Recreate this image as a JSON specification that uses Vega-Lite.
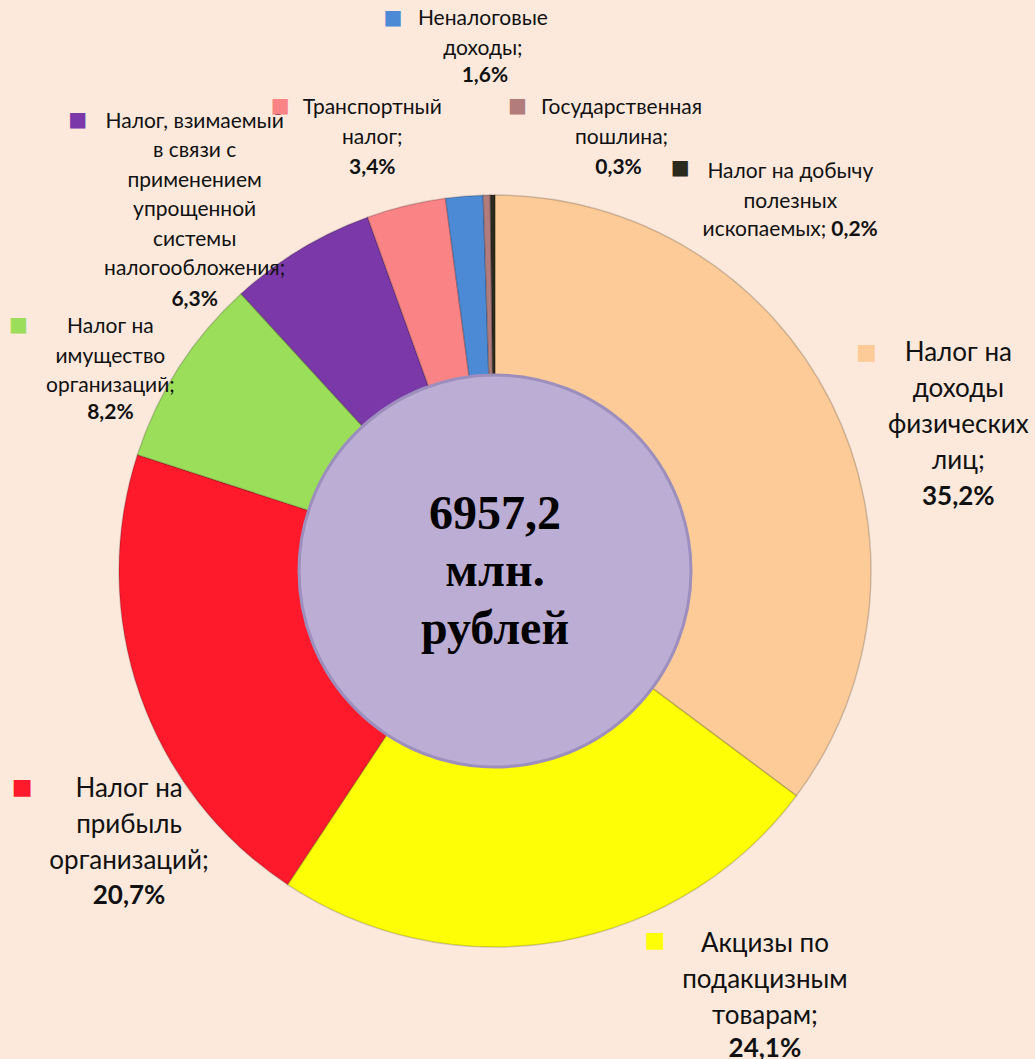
{
  "$schema": "https://vega.github.io/schema/vega-lite/v6.json",
  "width": 990,
  "height": 976,
  "padding": {"left": 0, "top": 83, "right": 45, "bottom": 0},
  "autosize": {"type": "none"},
  "background": "#FCE9DC",
  "config": {
    "view": {"stroke": null},
    "locale": {"number": {"decimal": ",", "thousands": " ", "grouping": [3], "currency": ["", " руб."]}}
  },
  "datasets": {
    "parts": [
      {"k": "ndfl", "cat": "Налог на доходы физических лиц", "share": 0.352, "label": "Налог на\nдоходы\nфизических\nлиц;"},
      {"k": "akciz", "cat": "Акцизы по подакцизным товарам", "share": 0.241, "label": "Акцизы по\nподакцизным\nтоварам;"},
      {"k": "prib", "cat": "Налог на прибыль организаций", "share": 0.207, "label": "Налог на\nприбыль\nорганизаций;"},
      {"k": "imush", "cat": "Налог на имущество организаций", "share": 0.082, "label": "Налог на\nимущество\nорганизаций;"},
      {"k": "usn", "cat": "Налог, взимаемый в связи с применением упрощенной системы налогообложения", "share": 0.063, "label": "Налог, взимаемый\nв связи с\nприменением\nупрощенной\nсистемы\nналогообложения;"},
      {"k": "transp", "cat": "Транспортный налог", "share": 0.034, "label": "Транспортный\nналог;"},
      {"k": "nenal", "cat": "Неналоговые доходы", "share": 0.016, "label": "Неналоговые\nдоходы;"},
      {"k": "gosp", "cat": "Государственная пошлина", "share": 0.003, "label": "Государственная\nпошлина;"},
      {"k": "dob", "cat": "Налог на добычу полезных ископаемых", "share": 0.002, "label": "Налог на добычу\nполезных", "tail": "ископаемых;"}
    ],
    "total": [{"total": 6957.2, "unit": "млн.\nрублей"}]
  },
  "data": {"name": "parts"},
  "layer": [
    {
      "mark": {"type": "arc", "radius": 376, "radius2": 185, "stroke": "#000000", "strokeOpacity": 0.18, "strokeWidth": 1.5},
      "encoding": {
        "theta": {"field": "share", "type": "quantitative", "stack": true},
        "order": {"field": "share", "type": "quantitative", "sort": "descending"},
        "color": {
          "field": "cat", "type": "nominal", "legend": null,
          "scale": {
            "domain": ["Налог на доходы физических лиц", "Акцизы по подакцизным товарам", "Налог на прибыль организаций", "Налог на имущество организаций", "Налог, взимаемый в связи с применением упрощенной системы налогообложения", "Транспортный налог", "Неналоговые доходы", "Государственная пошлина", "Налог на добычу полезных ископаемых"],
            "range": ["#FCCB98", "#FEFE06", "#FF1A2B", "#9BDE5A", "#7B38A9", "#FA8385", "#4C8AD6", "#B27C7C", "#2B2A1C"]
          }
        }
      }
    },
    {
      "data": {"name": "total"},
      "mark": {"type": "arc", "radius": 196, "theta": 0, "theta2": 6.2832, "color": "#BCADD4", "stroke": "#9D8FBD", "strokeWidth": 3},
      "encoding": {}
    },
    {
      "data": {"name": "total"},
      "mark": {"type": "text", "font": "Liberation Serif", "fontWeight": "bold", "fontSize": 48, "align": "center", "baseline": "middle", "dy": -56, "color": "#000000"},
      "encoding": {"text": {"field": "total", "type": "quantitative", "format": ".1f"}}
    },
    {
      "data": {"name": "total"},
      "mark": {"type": "text", "font": "Liberation Serif", "fontWeight": "bold", "fontSize": 48, "lineHeight": 58, "lineBreak": "\n", "align": "center", "baseline": "top", "dy": -23, "color": "#000000"},
      "encoding": {"text": {"field": "unit", "type": "nominal"}}
    },

    {"mark": {"type": "text", "radius": 430, "baseline": "top", "align": "center", "font": "Lato", "fontSize": 26, "lineHeight": 36, "lineBreak": "\n", "color": "#111111", "dx": 79, "dy": -38},
     "encoding": {"theta": {"field": "share", "type": "quantitative", "stack": true}, "order": {"field": "share", "type": "quantitative", "sort": "descending"},
       "text": {"condition": {"test": "datum.k === 'ndfl'", "field": "label", "type": "nominal"}, "value": ""}}},
    {"mark": {"type": "text", "radius": 430, "baseline": "top", "align": "center", "font": "Lato", "fontWeight": "bold", "fontSize": 26, "color": "#111111", "dx": 79, "dy": 106},
     "encoding": {"theta": {"field": "share", "type": "quantitative", "stack": true}, "order": {"field": "share", "type": "quantitative", "sort": "descending"},
       "text": {"condition": {"test": "datum.k === 'ndfl'", "field": "share", "type": "quantitative", "format": ".1%"}, "value": ""}}},
    {"mark": {"type": "text", "radius": 430, "baseline": "middle", "align": "center", "font": "DejaVu Sans", "fontSize": 22, "dx": -13, "dy": -26},
     "encoding": {"theta": {"field": "share", "type": "quantitative", "stack": true}, "order": {"field": "share", "type": "quantitative", "sort": "descending"},
       "color": {"field": "cat", "type": "nominal", "legend": null},
       "text": {"condition": {"test": "datum.k === 'ndfl'", "value": "■"}, "value": ""}}},

    {"mark": {"type": "text", "radius": 430, "baseline": "top", "align": "center", "font": "Lato", "fontSize": 26, "lineHeight": 36, "lineBreak": "\n", "color": "#111111", "dx": 196, "dy": -64},
     "encoding": {"theta": {"field": "share", "type": "quantitative", "stack": true}, "order": {"field": "share", "type": "quantitative", "sort": "descending"},
       "text": {"condition": {"test": "datum.k === 'akciz'", "field": "label", "type": "nominal"}, "value": ""}}},
    {"mark": {"type": "text", "radius": 430, "baseline": "top", "align": "center", "font": "Lato", "fontWeight": "bold", "fontSize": 26, "color": "#111111", "dx": 196, "dy": 41},
     "encoding": {"theta": {"field": "share", "type": "quantitative", "stack": true}, "order": {"field": "share", "type": "quantitative", "sort": "descending"},
       "text": {"condition": {"test": "datum.k === 'akciz'", "field": "share", "type": "quantitative", "format": ".1%"}, "value": ""}}},
    {"mark": {"type": "text", "radius": 430, "baseline": "middle", "align": "center", "font": "DejaVu Sans", "fontSize": 22, "dx": 86, "dy": -55},
     "encoding": {"theta": {"field": "share", "type": "quantitative", "stack": true}, "order": {"field": "share", "type": "quantitative", "sort": "descending"},
       "color": {"field": "cat", "type": "nominal", "legend": null},
       "text": {"condition": {"test": "datum.k === 'akciz'", "value": "■"}, "value": ""}}},

    {"mark": {"type": "text", "radius": 430, "baseline": "top", "align": "center", "font": "Lato", "fontSize": 26, "lineHeight": 36, "lineBreak": "\n", "color": "#111111", "dx": 40, "dy": 63},
     "encoding": {"theta": {"field": "share", "type": "quantitative", "stack": true}, "order": {"field": "share", "type": "quantitative", "sort": "descending"},
       "text": {"condition": {"test": "datum.k === 'prib'", "field": "label", "type": "nominal"}, "value": ""}}},
    {"mark": {"type": "text", "radius": 430, "baseline": "top", "align": "center", "font": "Lato", "fontWeight": "bold", "fontSize": 26, "color": "#111111", "dx": 40, "dy": 170},
     "encoding": {"theta": {"field": "share", "type": "quantitative", "stack": true}, "order": {"field": "share", "type": "quantitative", "sort": "descending"},
       "text": {"condition": {"test": "datum.k === 'prib'", "field": "share", "type": "quantitative", "format": ".1%"}, "value": ""}}},
    {"mark": {"type": "text", "radius": 430, "baseline": "middle", "align": "center", "font": "DejaVu Sans", "fontSize": 22, "dx": -67, "dy": 74},
     "encoding": {"theta": {"field": "share", "type": "quantitative", "stack": true}, "order": {"field": "share", "type": "quantitative", "sort": "descending"},
       "color": {"field": "cat", "type": "nominal", "legend": null},
       "text": {"condition": {"test": "datum.k === 'prib'", "value": "■"}, "value": ""}}},

    {"mark": {"type": "text", "radius": 430, "baseline": "top", "align": "center", "font": "Lato", "fontSize": 21, "lineHeight": 29.5, "lineBreak": "\n", "color": "#111111", "dx": -23, "dy": -22},
     "encoding": {"theta": {"field": "share", "type": "quantitative", "stack": true}, "order": {"field": "share", "type": "quantitative", "sort": "descending"},
       "text": {"condition": {"test": "datum.k === 'imush'", "field": "label", "type": "nominal"}, "value": ""}}},
    {"mark": {"type": "text", "radius": 430, "baseline": "top", "align": "center", "font": "Lato", "fontWeight": "bold", "fontSize": 21, "color": "#111111", "dx": -23, "dy": 64},
     "encoding": {"theta": {"field": "share", "type": "quantitative", "stack": true}, "order": {"field": "share", "type": "quantitative", "sort": "descending"},
       "text": {"condition": {"test": "datum.k === 'imush'", "field": "share", "type": "quantitative", "format": ".1%"}, "value": ""}}},
    {"mark": {"type": "text", "radius": 430, "baseline": "middle", "align": "center", "font": "DejaVu Sans", "fontSize": 20, "dx": -115, "dy": -13},
     "encoding": {"theta": {"field": "share", "type": "quantitative", "stack": true}, "order": {"field": "share", "type": "quantitative", "sort": "descending"},
       "color": {"field": "cat", "type": "nominal", "legend": null},
       "text": {"condition": {"test": "datum.k === 'imush'", "value": "■"}, "value": ""}}},

    {"mark": {"type": "text", "radius": 430, "baseline": "top", "align": "center", "font": "Lato", "fontSize": 21, "lineHeight": 29.5, "lineBreak": "\n", "color": "#111111", "dx": -78, "dy": -92},
     "encoding": {"theta": {"field": "share", "type": "quantitative", "stack": true}, "order": {"field": "share", "type": "quantitative", "sort": "descending"},
       "text": {"condition": {"test": "datum.k === 'usn'", "field": "label", "type": "nominal"}, "value": ""}}},
    {"mark": {"type": "text", "radius": 430, "baseline": "top", "align": "center", "font": "Lato", "fontWeight": "bold", "fontSize": 21, "color": "#111111", "dx": -78, "dy": 86},
     "encoding": {"theta": {"field": "share", "type": "quantitative", "stack": true}, "order": {"field": "share", "type": "quantitative", "sort": "descending"},
       "text": {"condition": {"test": "datum.k === 'usn'", "field": "share", "type": "quantitative", "format": ".1%"}, "value": ""}}},
    {"mark": {"type": "text", "radius": 430, "baseline": "middle", "align": "center", "font": "DejaVu Sans", "fontSize": 20, "dx": -195, "dy": -83},
     "encoding": {"theta": {"field": "share", "type": "quantitative", "stack": true}, "order": {"field": "share", "type": "quantitative", "sort": "descending"},
       "color": {"field": "cat", "type": "nominal", "legend": null},
       "text": {"condition": {"test": "datum.k === 'usn'", "value": "■"}, "value": ""}}},

    {"mark": {"type": "text", "radius": 430, "baseline": "top", "align": "center", "font": "Lato", "fontSize": 21, "lineHeight": 29.5, "lineBreak": "\n", "color": "#111111", "dx": -21, "dy": -56},
     "encoding": {"theta": {"field": "share", "type": "quantitative", "stack": true}, "order": {"field": "share", "type": "quantitative", "sort": "descending"},
       "text": {"condition": {"test": "datum.k === 'transp'", "field": "label", "type": "nominal"}, "value": ""}}},
    {"mark": {"type": "text", "radius": 430, "baseline": "top", "align": "center", "font": "Lato", "fontWeight": "bold", "fontSize": 21, "color": "#111111", "dx": -21, "dy": 4},
     "encoding": {"theta": {"field": "share", "type": "quantitative", "stack": true}, "order": {"field": "share", "type": "quantitative", "sort": "descending"},
       "text": {"condition": {"test": "datum.k === 'transp'", "field": "share", "type": "quantitative", "format": ".1%"}, "value": ""}}},
    {"mark": {"type": "text", "radius": 430, "baseline": "middle", "align": "center", "font": "DejaVu Sans", "fontSize": 20, "dx": -113, "dy": -47},
     "encoding": {"theta": {"field": "share", "type": "quantitative", "stack": true}, "order": {"field": "share", "type": "quantitative", "sort": "descending"},
       "color": {"field": "cat", "type": "nominal", "legend": null},
       "text": {"condition": {"test": "datum.k === 'transp'", "value": "■"}, "value": ""}}},

    {"mark": {"type": "text", "radius": 430, "baseline": "top", "align": "center", "font": "Lato", "fontSize": 21, "lineHeight": 29.5, "lineBreak": "\n", "color": "#111111", "dx": 23, "dy": -134},
     "encoding": {"theta": {"field": "share", "type": "quantitative", "stack": true}, "order": {"field": "share", "type": "quantitative", "sort": "descending"},
       "text": {"condition": {"test": "datum.k === 'nenal'", "field": "label", "type": "nominal"}, "value": ""}}},
    {"mark": {"type": "text", "radius": 430, "baseline": "top", "align": "center", "font": "Lato", "fontWeight": "bold", "fontSize": 21, "color": "#111111", "dx": 25, "dy": -77},
     "encoding": {"theta": {"field": "share", "type": "quantitative", "stack": true}, "order": {"field": "share", "type": "quantitative", "sort": "descending"},
       "text": {"condition": {"test": "datum.k === 'nenal'", "field": "share", "type": "quantitative", "format": ".1%"}, "value": ""}}},
    {"mark": {"type": "text", "radius": 430, "baseline": "middle", "align": "center", "font": "DejaVu Sans", "fontSize": 20, "dx": -67, "dy": -124},
     "encoding": {"theta": {"field": "share", "type": "quantitative", "stack": true}, "order": {"field": "share", "type": "quantitative", "sort": "descending"},
       "color": {"field": "cat", "type": "nominal", "legend": null},
       "text": {"condition": {"test": "datum.k === 'nenal'", "value": "■"}, "value": ""}}},

    {"mark": {"type": "text", "radius": 430, "baseline": "top", "align": "center", "font": "Lato", "fontSize": 21, "lineHeight": 29.5, "lineBreak": "\n", "color": "#111111", "dx": 136, "dy": -44},
     "encoding": {"theta": {"field": "share", "type": "quantitative", "stack": true}, "order": {"field": "share", "type": "quantitative", "sort": "descending"},
       "text": {"condition": {"test": "datum.k === 'gosp'", "field": "label", "type": "nominal"}, "value": ""}}},
    {"mark": {"type": "text", "radius": 430, "baseline": "top", "align": "center", "font": "Lato", "fontWeight": "bold", "fontSize": 21, "color": "#111111", "dx": 133, "dy": 16},
     "encoding": {"theta": {"field": "share", "type": "quantitative", "stack": true}, "order": {"field": "share", "type": "quantitative", "sort": "descending"},
       "text": {"condition": {"test": "datum.k === 'gosp'", "field": "share", "type": "quantitative", "format": ".1%"}, "value": ""}}},
    {"mark": {"type": "text", "radius": 430, "baseline": "middle", "align": "center", "font": "DejaVu Sans", "fontSize": 20, "dx": 32, "dy": -35},
     "encoding": {"theta": {"field": "share", "type": "quantitative", "stack": true}, "order": {"field": "share", "type": "quantitative", "sort": "descending"},
       "color": {"field": "cat", "type": "nominal", "legend": null},
       "text": {"condition": {"test": "datum.k === 'gosp'", "value": "■"}, "value": ""}}},

    {"mark": {"type": "text", "radius": 430, "baseline": "top", "align": "center", "font": "Lato", "fontSize": 21, "lineHeight": 29.5, "lineBreak": "\n", "color": "#111111", "dx": 298, "dy": 20},
     "encoding": {"theta": {"field": "share", "type": "quantitative", "stack": true}, "order": {"field": "share", "type": "quantitative", "sort": "descending"},
       "text": {"condition": {"test": "datum.k === 'dob'", "field": "label", "type": "nominal"}, "value": ""}}},
    {"mark": {"type": "text", "radius": 430, "baseline": "top", "align": "right", "font": "Lato", "fontSize": 21, "color": "#111111", "dx": 334, "dy": 78},
     "encoding": {"theta": {"field": "share", "type": "quantitative", "stack": true}, "order": {"field": "share", "type": "quantitative", "sort": "descending"},
       "text": {"condition": {"test": "datum.k === 'dob'", "field": "tail", "type": "nominal"}, "value": ""}}},
    {"mark": {"type": "text", "radius": 430, "baseline": "top", "align": "left", "font": "Lato", "fontWeight": "bold", "fontSize": 21, "color": "#111111", "dx": 339, "dy": 78},
     "encoding": {"theta": {"field": "share", "type": "quantitative", "stack": true}, "order": {"field": "share", "type": "quantitative", "sort": "descending"},
       "text": {"condition": {"test": "datum.k === 'dob'", "field": "share", "type": "quantitative", "format": ".1%"}, "value": ""}}},
    {"mark": {"type": "text", "radius": 430, "baseline": "middle", "align": "center", "font": "DejaVu Sans", "fontSize": 20, "dx": 188, "dy": 27},
     "encoding": {"theta": {"field": "share", "type": "quantitative", "stack": true}, "order": {"field": "share", "type": "quantitative", "sort": "descending"},
       "color": {"field": "cat", "type": "nominal", "legend": null},
       "text": {"condition": {"test": "datum.k === 'dob'", "value": "■"}, "value": ""}}}
  ]
}
